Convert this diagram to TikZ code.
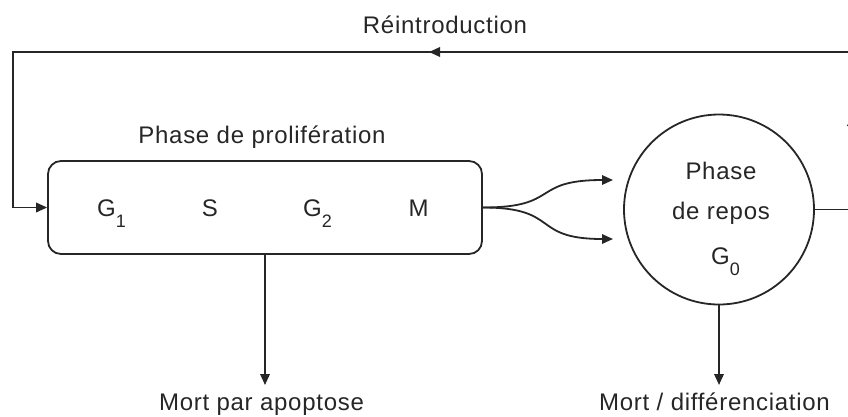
\documentclass[tikz,border=0pt]{standalone}
\usepackage{fontspec}
\setmainfont[LetterSpace=3]{Liberation Sans}
\usetikzlibrary{arrows.meta}
\newcommand\subs[1]{\raisebox{-11pt}{\fontsize{18}{18}\selectfont #1}}
\tikzset{
  ln/.style={draw=black!85, line width=1.8pt},
  arr/.style={ln, -{Triangle[length=11pt,width=9.5pt]}},
  txt/.style={inner sep=0pt, text=black!85, font=\fontsize{24}{28}\selectfont},
}
\begin{document}
\begin{tikzpicture}[x=1pt,y=-1pt]
\useasboundingbox (0,0) rectangle (848,416);
\clip (0,0) rectangle (848,416);
% main shapes
\node[ln, rounded corners=13pt, minimum width=434pt, minimum height=93pt, inner sep=0pt] (prolif) at (265,207.5) {};
\node[ln, circle, minimum size=190pt, inner sep=0pt] (rest) at (719,209.5) {};
% labels
\node[txt, anchor=base] (reint) at (445,33) {Réintroduction};
\node[txt, anchor=base] (prolifl) at (262,143) {Phase de prolifération};
\node[txt, anchor=base west] (g1) at (97,216) {G\subs{1}};
\node[txt, anchor=base] (s) at (210,216) {S};
\node[txt, anchor=base west] (g2) at (303,216) {G\subs{2}};
\node[txt, anchor=base] (m) at (418.5,216) {M};
\node[txt, anchor=base] (rp1) at (721,179) {Phase};
\node[txt, anchor=base] (rp2) at (721,219) {de repos};
\node[txt, anchor=base west] (g0) at (711,264) {G\subs{0}};
\node[txt, anchor=base] (apol) at (261.5,410) {Mort par apoptose};
\node[txt, anchor=base] (diffl) at (714.5,410) {Mort / différenciation};
% coordinates
\coordinate (apo) at (265,385);
\coordinate (mortd) at (719,385);
\coordinate (f1) at (613,180);
\coordinate (f2) at (613,239);
\coordinate (r1) at (852,209.5);
\coordinate (upm) at (852,115);
\coordinate (r2) at (852,52);
\coordinate (topm) at (429,52);
\coordinate (r3) at (13,52);
% connectors
\draw[arr] (prolif.south) -- (apo);
\draw[arr] (rest.south) -- (mortd);
\draw[arr] (prolif.east) .. controls +(78,0) and +(-83,0) .. (f1);
\draw[arr] (prolif.east) .. controls +(78,0) and +(-83,0) .. (f2);
\draw[arr] (rest.east) -- (r1) -- (r2) -- (r3) |- (prolif.west);
\draw[arr] (r1) -- (upm);
\draw[arr] (r2) -- (topm);
\end{tikzpicture}
\end{document}
